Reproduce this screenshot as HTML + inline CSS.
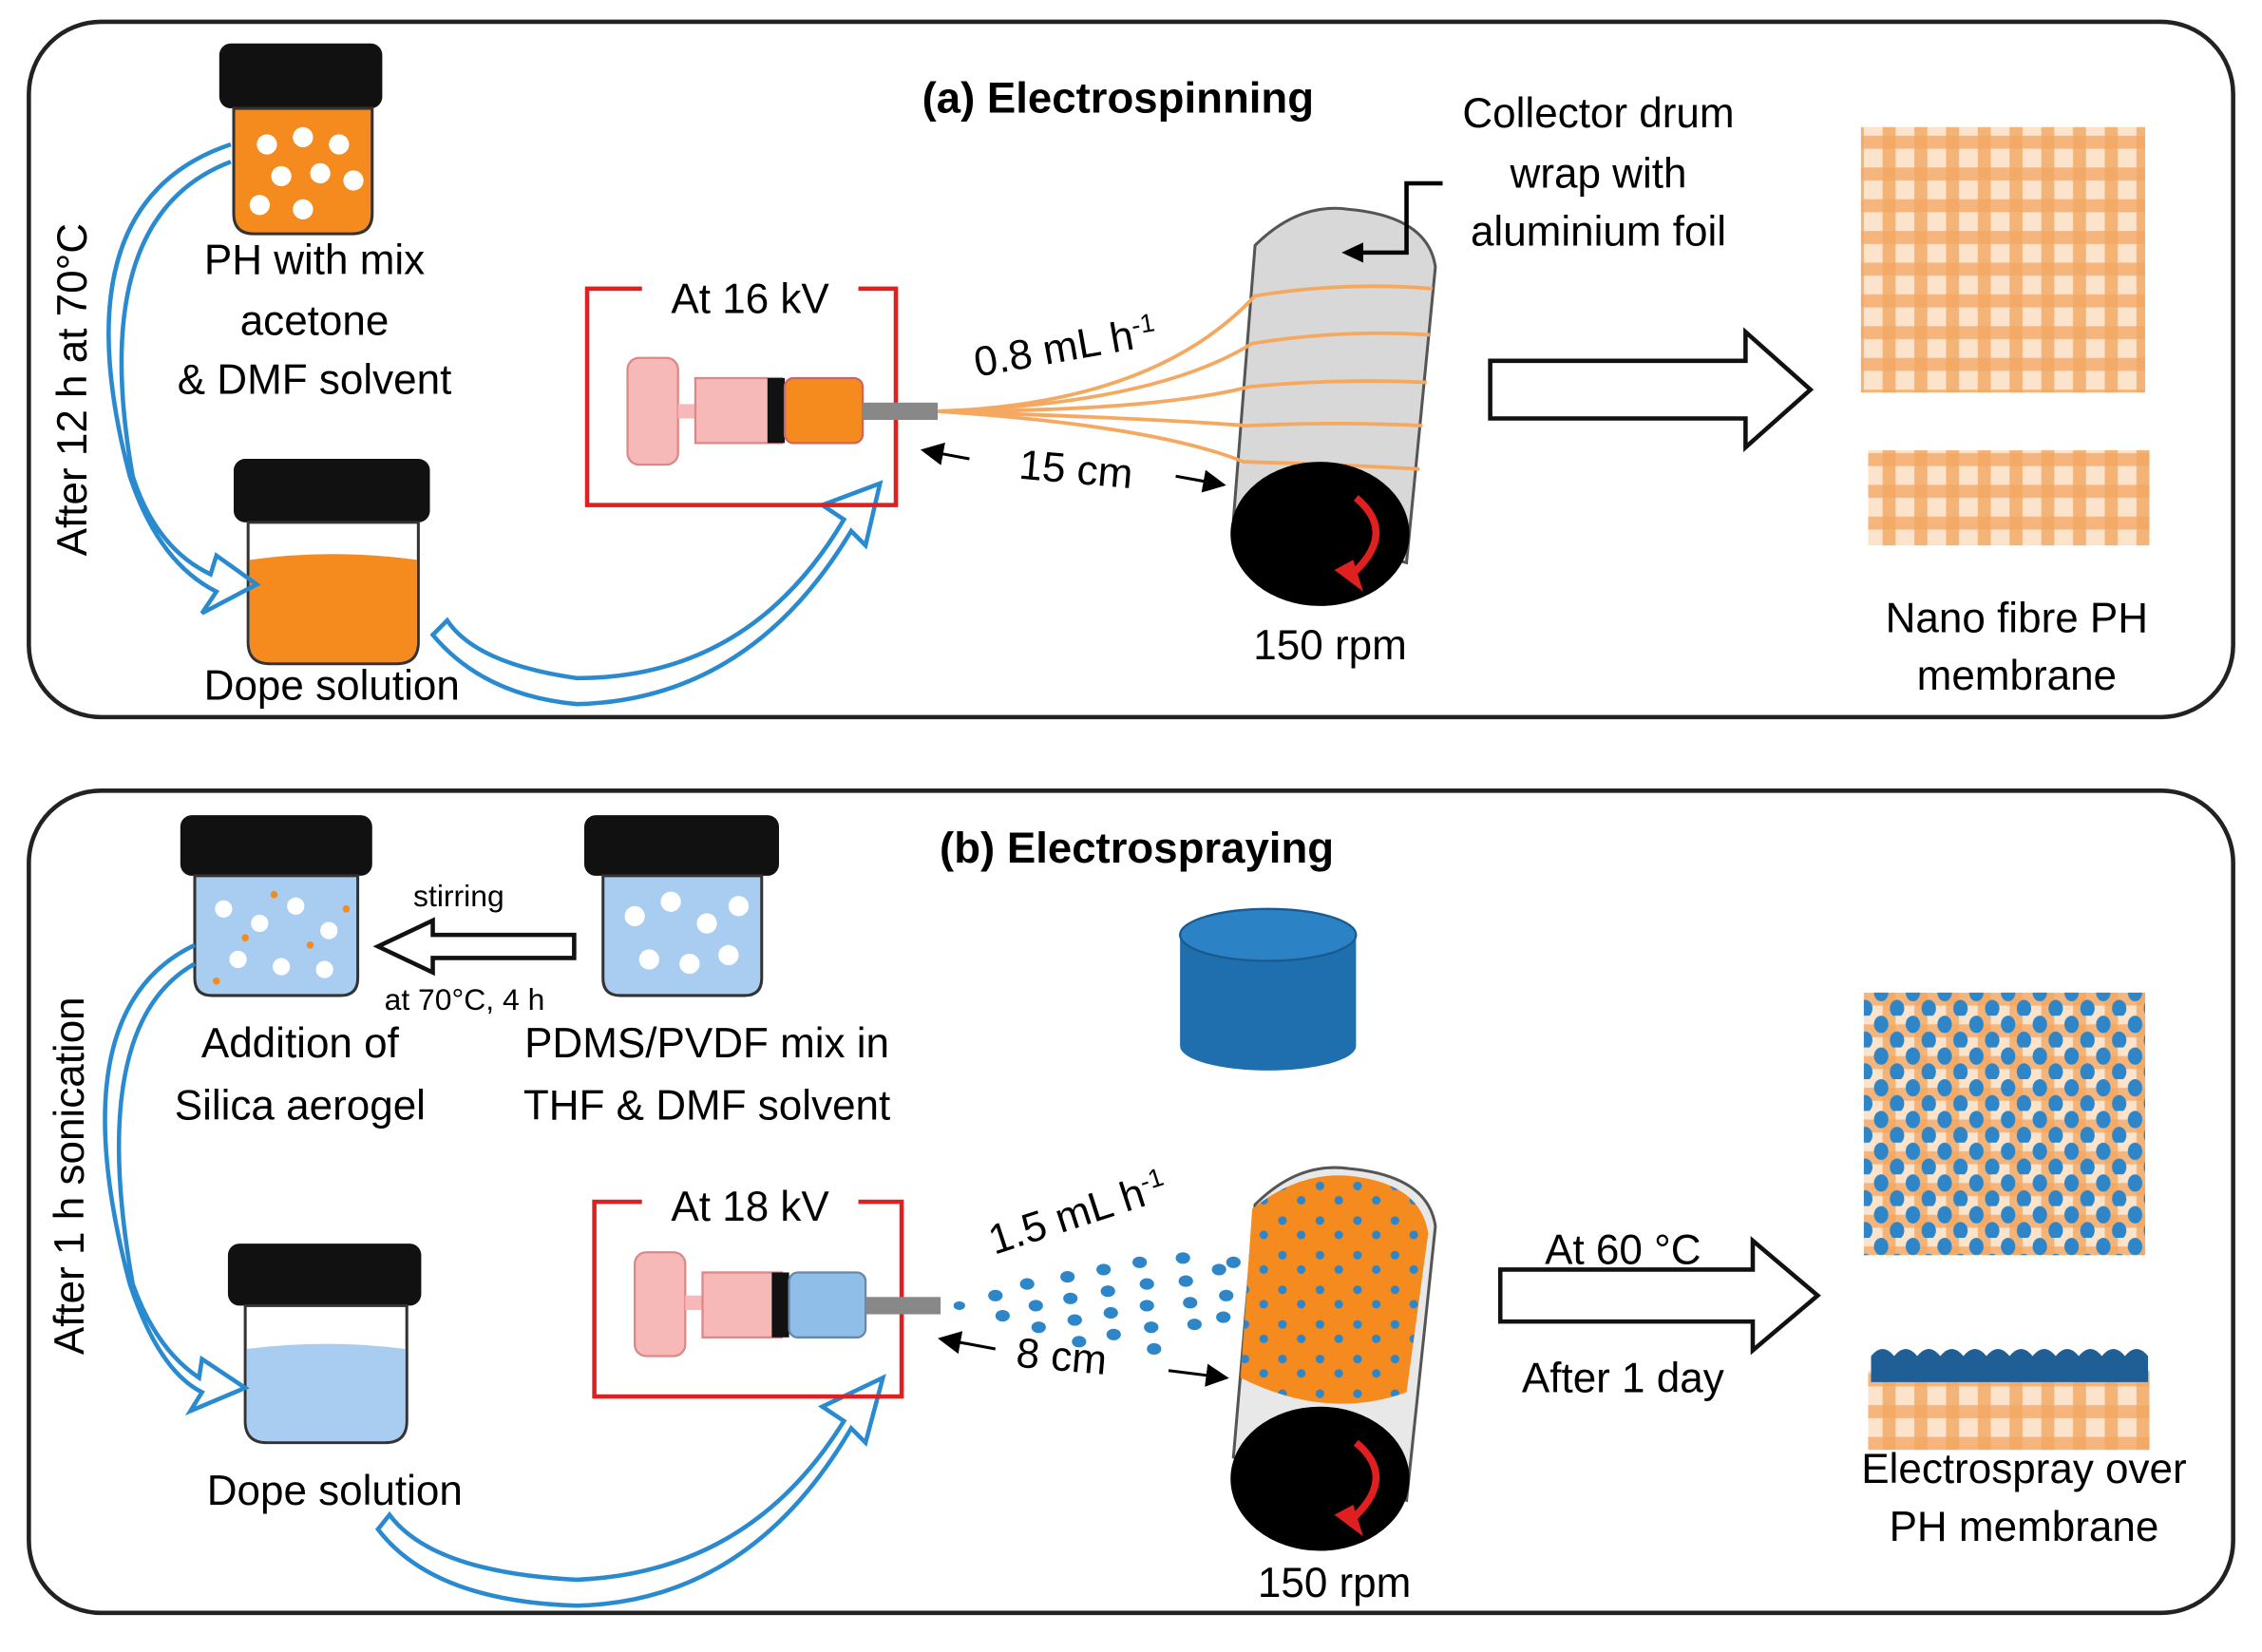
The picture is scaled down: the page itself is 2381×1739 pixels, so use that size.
<!DOCTYPE html>
<html><head><meta charset="utf-8"><style>html,body{margin:0;padding:0;background:#fff}svg{display:block}</style></head>
<body>
<svg width="2381" height="1739" viewBox="0 0 1568 1145" xmlns="http://www.w3.org/2000/svg" font-family="Liberation Sans, sans-serif">
<defs>
<pattern id="mesh" x="0" y="0" width="22" height="22" patternUnits="userSpaceOnUse">
<rect width="22" height="22" fill="#fbe3cc"/>
<rect x="0" y="6" width="22" height="9" fill="#f6b57c"/>
<rect x="7" y="0" width="9" height="22" fill="#f3a862" opacity="0.8"/>
</pattern>
<pattern id="dotsB" x="0" y="0" width="22" height="22" patternUnits="userSpaceOnUse">
<ellipse cx="6" cy="6" rx="5" ry="6" fill="#2e86c8"/>
<ellipse cx="17" cy="17" rx="5" ry="6" fill="#2e86c8"/>
</pattern>
<pattern id="drumdots" x="0" y="0" width="26" height="24" patternUnits="userSpaceOnUse">
<circle cx="5" cy="6" r="3" fill="#2e86c8"/><circle cx="18" cy="16" r="3" fill="#2e86c8"/>
</pattern>
<marker id="ah" markerWidth="8" markerHeight="8" refX="7" refY="4" orient="auto"><path d="M0 0 L8 4 L0 8 Z" fill="#000"/></marker>
</defs>
<rect x="20" y="15" width="1528" height="482" rx="50" fill="#fff" stroke="#222" stroke-width="3"/>
<rect x="20" y="548" width="1528" height="570" rx="50" fill="#fff" stroke="#222" stroke-width="3"/>

<!-- panel a -->
<text x="775" y="78" font-size="30" font-weight="bold" text-anchor="middle">(a) Electrospinning</text>
<rect x="152" y="30" width="113" height="45" rx="8" fill="#111"/>
<path d="M162 75 H258 V148 Q258 162 244 162 H176 Q162 162 162 148 Z" fill="#f58a1f" stroke="#333" stroke-width="2"/>
<g fill="#fff"><circle cx="185" cy="100" r="7"/><circle cx="210" cy="95" r="7"/><circle cx="235" cy="100" r="7"/><circle cx="195" cy="122" r="7"/><circle cx="222" cy="120" r="7"/><circle cx="245" cy="125" r="7"/><circle cx="180" cy="142" r="7"/><circle cx="210" cy="145" r="7"/></g>
<g font-size="29" text-anchor="middle"><text x="218" y="190">PH with mix</text><text x="218" y="232">acetone</text><text x="218" y="273">&amp; DMF solvent</text></g>
<text transform="translate(60 270) rotate(-90)" font-size="29" text-anchor="middle">After 12 h at 70°C</text>
<rect x="162" y="318" width="136" height="44" rx="8" fill="#111"/>
<path d="M172 362 H290 V445 Q290 460 275 460 H187 Q172 460 172 445 Z" fill="#fff" stroke="#333" stroke-width="2"/>
<path d="M173 388 Q231 380 289 388 V445 Q289 459 275 459 H187 Q173 459 173 445 Z" fill="#f58a1f"/>
<text x="230" y="485" font-size="29" text-anchor="middle">Dope solution</text>
<g fill="none" stroke="#2a8ad0" stroke-width="3">
<path d="M160 100 Q40 140 90 330 Q110 390 150 410 L140 425 L178 405 L150 385 L146 398 Q108 380 92 330 Q60 150 160 112"/>
<path d="M310 430 Q330 460 400 470 Q520 470 585 360 L570 350 L610 335 L600 378 L590 368 Q520 485 400 488 Q335 482 300 440 Z"/>
</g>
<rect x="407" y="200" width="214" height="150" fill="none" stroke="#e02020" stroke-width="3"/>
<rect x="445" y="190" width="150" height="30" fill="#fff"/>
<text x="520" y="217" font-size="29" text-anchor="middle">At 16 kV</text>
<rect x="435" y="248" width="35" height="74" rx="8" fill="#f7b8b8" stroke="#d88" stroke-width="1.5"/>
<rect x="470" y="280" width="12" height="10" fill="#f7b8b8"/>
<rect x="482" y="262" width="60" height="45" fill="#f7b8b8" stroke="#d88" stroke-width="1.5"/>
<rect x="532" y="262" width="12" height="45" fill="#111"/>
<rect x="544" y="262" width="54" height="45" rx="6" fill="#f58a1f" stroke="#c66" stroke-width="1.5"/>
<rect x="598" y="279" width="52" height="12" fill="#888"/>
<path d="M870 170 Q900 140 935 145 Q990 150 995 185 L975 390 L855 360 Z" fill="#d8d8d8" stroke="#555" stroke-width="2"/>
<g fill="none" stroke="#f5a860" stroke-width="2.5">
<path d="M650 285 Q800 280 870 205 Q930 195 993 200"/><path d="M650 285 Q800 280 868 238 Q930 228 991 232"/><path d="M650 285 Q800 285 866 268 Q930 262 989 265"/><path d="M650 285 Q800 290 864 295 Q930 292 986 295"/><path d="M650 285 Q800 295 862 320 Q930 322 984 325"/>
</g>
<ellipse cx="915" cy="370" rx="62" ry="50" fill="#000"/>
<path d="M940 345 Q970 370 935 400" fill="none" stroke="#e02020" stroke-width="5"/><path d="M925 395 L945 410 L938 388 Z" fill="#e02020"/>
<text transform="translate(740 250) rotate(-10)" font-size="29" text-anchor="middle">0.8 mL h<tspan font-size="18" dy="-10">-1</tspan></text>
<text transform="translate(745 335) rotate(5)" font-size="29" text-anchor="middle">15 cm</text>
<path d="M672 318 L640 312" stroke="#000" stroke-width="2" marker-end="url(#ah)"/><path d="M815 330 L848 336" stroke="#000" stroke-width="2" marker-end="url(#ah)"/>
<text x="922" y="457" font-size="29" text-anchor="middle">150 rpm</text>
<g font-size="29" text-anchor="middle"><text x="1108" y="88">Collector drum</text><text x="1108" y="130">wrap with</text><text x="1108" y="170">aluminium foil</text></g>
<path d="M1000 127 H975 V175 H935" fill="none" stroke="#000" stroke-width="3"/><path d="M930 175 L945 168 L945 182 Z"/>
<path d="M1033 250 H1210 V230 L1255 270 L1210 310 V290 H1033 Z" fill="#fff" stroke="#111" stroke-width="3"/>
<rect x="1290" y="88" width="197" height="184" fill="url(#mesh)"/>
<rect x="1295" y="312" width="195" height="66" fill="url(#mesh)"/>
<g font-size="29" text-anchor="middle"><text x="1398" y="438">Nano fibre PH</text><text x="1398" y="478">membrane</text></g>

<!-- panel b -->
<text x="788" y="598" font-size="30" font-weight="bold" text-anchor="middle">(b) Electrospraying</text>
<rect x="125" y="565" width="133" height="42" rx="8" fill="#111"/>
<path d="M135 607 H248 V678 Q248 690 236 690 H147 Q135 690 135 678 Z" fill="#a9cdf0" stroke="#333" stroke-width="2"/>
<g fill="#fff"><circle cx="155" cy="630" r="6"/><circle cx="180" cy="640" r="6"/><circle cx="205" cy="628" r="6"/><circle cx="228" cy="645" r="6"/><circle cx="165" cy="665" r="6"/><circle cx="195" cy="670" r="6"/><circle cx="225" cy="672" r="6"/></g>
<g fill="#f58a1f"><circle cx="170" cy="650" r="2.5"/><circle cx="215" cy="655" r="2.5"/><circle cx="150" cy="680" r="2.5"/><circle cx="240" cy="630" r="2.5"/><circle cx="190" cy="620" r="2.5"/></g>
<rect x="405" y="565" width="135" height="42" rx="8" fill="#111"/>
<path d="M418 607 H528 V678 Q528 690 516 690 H430 Q418 690 418 678 Z" fill="#a9cdf0" stroke="#333" stroke-width="2"/>
<g fill="#fff"><circle cx="440" cy="635" r="7"/><circle cx="465" cy="625" r="7"/><circle cx="490" cy="640" r="7"/><circle cx="512" cy="628" r="7"/><circle cx="450" cy="665" r="7"/><circle cx="478" cy="668" r="7"/><circle cx="505" cy="662" r="7"/></g>
<path d="M398 648 H300 V638 L262 656 L300 674 V664 H398 Z" fill="#fff" stroke="#111" stroke-width="3"/>
<text x="318" y="628" font-size="21" text-anchor="middle">stirring</text>
<text x="322" y="700" font-size="21" text-anchor="middle">at 70°C, 4 h</text>
<g font-size="29" text-anchor="middle"><text x="208" y="733">Addition of</text><text x="208" y="776">Silica aerogel</text><text x="490" y="733">PDMS/PVDF mix in</text><text x="490" y="776">THF &amp; DMF solvent</text></g>
<path d="M818 648 V725 A61 17 0 0 0 940 725 V648 Z" fill="#1f6fae"/>
<ellipse cx="879" cy="648" rx="61" ry="18" fill="#2b82c4" stroke="#1a5a90" stroke-width="1.5"/>
<text transform="translate(58 815) rotate(-90)" font-size="29" text-anchor="middle">After 1 h sonication</text>
<rect x="158" y="862" width="134" height="43" rx="8" fill="#111"/>
<path d="M170 905 H282 V985 Q282 1000 267 1000 H185 Q170 1000 170 985 Z" fill="#fff" stroke="#333" stroke-width="2"/>
<path d="M171 935 Q226 928 281 935 V985 Q281 999 267 999 H185 Q171 999 171 985 Z" fill="#a9cdf0"/>
<text x="232" y="1043" font-size="29" text-anchor="middle">Dope solution</text>
<g fill="none" stroke="#2a8ad0" stroke-width="3">
<path d="M135 655 Q40 700 90 890 Q110 950 140 965 L132 978 L170 962 L140 942 L138 955 Q108 935 92 890 Q60 710 135 668"/>
<path d="M270 1050 Q300 1090 400 1095 Q520 1090 585 985 L570 975 L612 955 L600 1000 L590 990 Q520 1110 400 1113 Q300 1110 262 1060 Z"/>
</g>
<rect x="412" y="833" width="213" height="135" fill="none" stroke="#e02020" stroke-width="3"/>
<rect x="445" y="820" width="150" height="30" fill="#fff"/>
<text x="520" y="846" font-size="29" text-anchor="middle">At 18 kV</text>
<rect x="440" y="868" width="35" height="72" rx="8" fill="#f7b8b8" stroke="#d88" stroke-width="1.5"/>
<rect x="475" y="898" width="12" height="10" fill="#f7b8b8"/>
<rect x="487" y="882" width="55" height="45" fill="#f7b8b8" stroke="#d88" stroke-width="1.5"/>
<rect x="535" y="882" width="12" height="45" fill="#111"/>
<rect x="547" y="882" width="53" height="45" rx="6" fill="#8fbfe8" stroke="#68a" stroke-width="1.5"/>
<rect x="600" y="899" width="52" height="12" fill="#888"/>
<g fill="#2e86c8">
<ellipse cx="665" cy="905" rx="4" ry="3"/><ellipse cx="690" cy="898" rx="5" ry="4"/><ellipse cx="695" cy="912" rx="5" ry="4"/><ellipse cx="712" cy="890" rx="5" ry="4"/><ellipse cx="718" cy="905" rx="5" ry="4"/><ellipse cx="720" cy="920" rx="5" ry="4"/><ellipse cx="740" cy="885" rx="5" ry="4"/><ellipse cx="742" cy="900" rx="5" ry="4"/><ellipse cx="745" cy="915" rx="5" ry="4"/><ellipse cx="748" cy="930" rx="5" ry="4"/><ellipse cx="765" cy="880" rx="5" ry="4"/><ellipse cx="768" cy="895" rx="5" ry="4"/><ellipse cx="770" cy="910" rx="5" ry="4"/><ellipse cx="772" cy="925" rx="5" ry="4"/><ellipse cx="790" cy="875" rx="5" ry="4"/><ellipse cx="795" cy="890" rx="5" ry="4"/><ellipse cx="795" cy="905" rx="5" ry="4"/><ellipse cx="798" cy="920" rx="5" ry="4"/><ellipse cx="800" cy="935" rx="5" ry="4"/><ellipse cx="820" cy="872" rx="5" ry="4"/><ellipse cx="822" cy="888" rx="5" ry="4"/><ellipse cx="825" cy="903" rx="5" ry="4"/><ellipse cx="828" cy="918" rx="5" ry="4"/><ellipse cx="845" cy="880" rx="5" ry="4"/><ellipse cx="850" cy="898" rx="5" ry="4"/><ellipse cx="855" cy="875" rx="5" ry="4"/><ellipse cx="848" cy="913" rx="5" ry="4"/>
</g>
<path d="M870 835 Q900 805 935 810 Q990 815 995 850 L975 1040 L855 1010 Z" fill="#e8e8e8" stroke="#555" stroke-width="2"/>
<path d="M868 838 Q900 812 935 815 Q985 820 990 855 L975 965 Q920 985 860 955 Z" fill="#f58a1f"/>
<path d="M868 838 Q900 812 935 815 Q985 820 990 855 L975 965 Q920 985 860 955 Z" fill="url(#drumdots)"/>
<ellipse cx="915" cy="1025" rx="62" ry="50" fill="#000"/>
<path d="M940 1000 Q970 1025 935 1055" fill="none" stroke="#e02020" stroke-width="5"/><path d="M925 1050 L945 1065 L938 1043 Z" fill="#e02020"/>
<text transform="translate(750 850) rotate(-18)" font-size="29" text-anchor="middle">1.5 mL h<tspan font-size="18" dy="-10">-1</tspan></text>
<text transform="translate(735 950) rotate(5)" font-size="29" text-anchor="middle">8 cm</text>
<path d="M690 935 L652 928" stroke="#000" stroke-width="2" marker-end="url(#ah)"/><path d="M810 950 L850 955" stroke="#000" stroke-width="2" marker-end="url(#ah)"/>
<text x="925" y="1107" font-size="29" text-anchor="middle">150 rpm</text>
<path d="M1040 880 H1215 V860 L1260 898 L1215 936 V916 H1040 Z" fill="#fff" stroke="#111" stroke-width="3"/>
<text x="1125" y="876" font-size="29" text-anchor="middle">At 60 °C</text>
<text x="1125" y="965" font-size="29" text-anchor="middle">After 1 day</text>
<rect x="1292" y="688" width="195" height="182" fill="url(#mesh)"/>
<rect x="1292" y="688" width="195" height="182" fill="url(#dotsB)"/>
<rect x="1295" y="950" width="195" height="55" fill="url(#mesh)"/>
<path d="M1297 940 Q1305 930 1313 940 Q1321 930 1329 940 Q1337 930 1345 940 Q1353 930 1361 940 Q1369 930 1377 940 Q1385 930 1393 940 Q1401 930 1409 940 Q1417 930 1425 940 Q1433 930 1441 940 Q1449 930 1457 940 Q1465 930 1473 940 Q1481 930 1489 940 V958 H1297 Z" fill="#1f5f96"/>
<g font-size="29" text-anchor="middle"><text x="1403" y="1028">Electrospray over</text><text x="1403" y="1068">PH membrane</text></g>
</svg>
</body></html>
